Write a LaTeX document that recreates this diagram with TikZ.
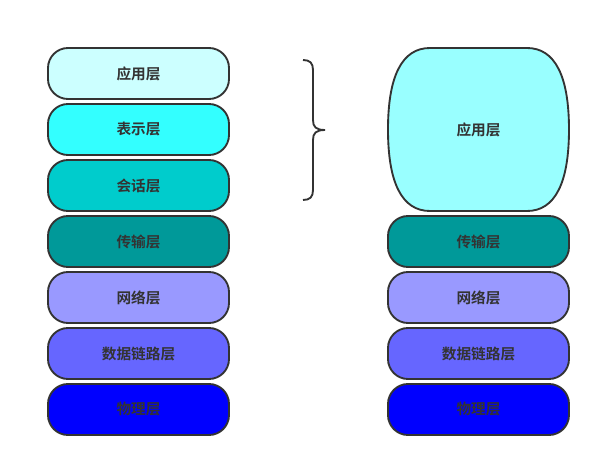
\documentclass[tikz,border=0pt]{standalone}
\usepackage{fontspec}
\newfontfamily\cjk{Noto Sans CJK SC}[BoldFont={Noto Sans CJK SC Bold}]
\definecolor{lineC}{HTML}{333333}
\definecolor{cA}{HTML}{CCFFFF}
\definecolor{cB}{HTML}{33FFFF}
\definecolor{cC}{HTML}{00CCCC}
\definecolor{cD}{HTML}{009999}
\definecolor{cE}{HTML}{9999FF}
\definecolor{cF}{HTML}{6666FF}
\definecolor{cG}{HTML}{0000FF}
\definecolor{cH}{HTML}{99FFFF}
\begin{document}
\begin{tikzpicture}[x=0.75pt,y=-0.75pt,
  txt/.style={font=\cjk\bfseries\fontsize{11pt}{13pt}\selectfont, text=lineC},
  layer/.style={txt, draw=lineC, line width=1.4pt, rounded corners=15pt,
    minimum width=181*0.75pt, minimum height=51*0.75pt, inner sep=0pt},
  outline/.style={draw=lineC, line width=1.4pt}]
\useasboundingbox (0,0) rectangle (601,467);
% left column
\node[layer, fill=cA] (l7) at (138.5,73.5) {应用层};
\node[layer, fill=cB] (l6) at (138.5,129.5) {表示层};
\node[layer, fill=cC] (l5) at (138.5,185.5) {会话层};
\node[layer, fill=cD] (l4) at (138.5,241.5) {传输层};
\node[layer, fill=cE] (l3) at (138.5,297.5) {网络层};
\node[layer, fill=cF] (l2) at (138.5,353.5) {数据链路层};
\node[layer, fill=cG] (l1) at (138.5,409.5) {物理层};
% right column
\path[outline, fill=cH]
  (388,129.5) .. controls (388,76) and (402,48) .. (430,48)
  -- (527,48) .. controls (555,48) and (569,76) .. (569,129.5)
  .. controls (569,183) and (555,211) .. (527,211)
  -- (430,211) .. controls (402,211) and (388,183) .. (388,129.5) -- cycle;
\node[txt] (r5) at (478.5,129.5) {应用层};
\node[layer, fill=cD] (r4) at (478.5,241.5) {传输层};
\node[layer, fill=cE] (r3) at (478.5,297.5) {网络层};
\node[layer, fill=cF] (r2) at (478.5,353.5) {数据链路层};
\node[layer, fill=cG] (r1) at (478.5,409.5) {物理层};
% brace
\coordinate (bt) at (303,60);
\coordinate (bb) at (303,200);
\coordinate (btip) at (325,130);
\draw[outline]
  (bt) .. controls (310,60) and (313,63) .. (313,70)
  -- (313,120) .. controls (313,127) and (316,130) .. (btip)
  .. controls (316,130) and (313,133) .. (313,140)
  -- (313,190) .. controls (313,197) and (310,200) .. (bb);
\end{tikzpicture}
\end{document}
